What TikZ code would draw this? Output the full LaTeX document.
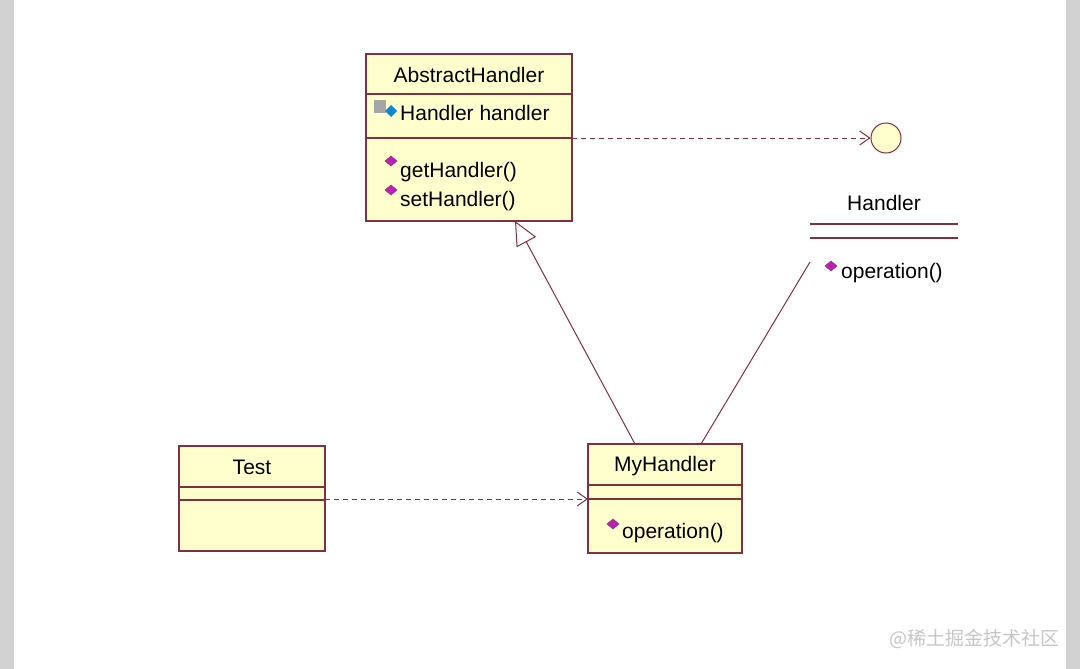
\documentclass[tikz,border=0pt]{standalone}
\usepackage{fontspec}
\setmainfont{Liberation Sans}
\newfontfamily\cjk{Noto Sans CJK SC}
\usetikzlibrary{arrows.meta}
\definecolor{cls}{RGB}{255,255,206}
\definecolor{edge}{RGB}{128,48,64}
\definecolor{mag}{RGB}{190,30,190}
\begin{document}
\begin{tikzpicture}[x=1pt,y=-1pt,
  box/.style={draw=edge,fill=cls,line width=1.2pt},
  sep/.style={draw=edge,line width=1.2pt},
  txt/.style={font=\fontsize{21}{24}\selectfont,inner sep=0pt,anchor=west},
  ttl/.style={font=\fontsize{21}{24}\selectfont,inner sep=0pt},
  dep/.style={draw=edge,dashed,line width=1pt,dash pattern=on 5pt off 4pt,-{Straight Barb[length=10pt,width=14pt]}},
  con/.style={draw=edge,line width=1pt},
  meth/.style={fill=mag,draw=edge,line width=0.4pt}]
\useasboundingbox (0,0) rectangle (1080,669);
\fill[white] (0,0) rectangle (1080,669);
\fill[gray!35] (0,0) rectangle (14,669);
\fill[gray!35] (1066,0) rectangle (1080,669);
\newcommand{\mdiam}[2]{\fill[meth] (#1-6,#2) -- (#1,#2-5) -- (#1+6,#2) -- (#1,#2+5) -- cycle;}
% AbstractHandler
\path[box] (366,54) rectangle (572,221);
\draw[sep] (366,94) -- (572,94);
\draw[sep] (366,138) -- (572,138);
\node[ttl] (ah) at (469,75) {AbstractHandler};
\coordinate (ahs) at (572,138);
\coordinate (ahb) at (515,221);
\fill[gray!70] (374,100) rectangle (386,113);
\fill[cyan!70!blue] (385,111) -- (391,105) -- (397,111) -- (391,117) -- cycle;
\node[txt] at (400,113) {Handler handler};
\mdiam{391}{161}
\node[txt] at (400,172) {getHandler()};
\mdiam{391}{190}
\node[txt] at (400,201) {setHandler()};
% Handler interface
\node[circle,draw=edge,fill=cls,line width=1pt,minimum size=30pt,inner sep=0pt] (hi) at (886,138) {};
\node[ttl] (hl) at (884,203) {Handler};
\draw[sep] (810,224) -- (958,224);
\draw[sep] (810,238) -- (958,238);
\mdiam{831}{266}
\node[txt] at (841,273) {operation()};
\coordinate (hc) at (810,262);
% MyHandler
\path[box] (588,444) rectangle (742,553);
\draw[sep] (588,485) -- (742,485);
\draw[sep] (588,499) -- (742,499);
\node[ttl] (mh) at (665,466) {MyHandler};
\mdiam{613}{524}
\node[txt] at (622,533) {operation()};
\coordinate (mhl) at (588,499);
\coordinate (mht1) at (635,444);
\coordinate (mht2) at (701,444);
% Test
\path[box] (179,446) rectangle (325,551);
\draw[sep] (179,487) -- (325,487);
\draw[sep] (179,500) -- (325,500);
\node[ttl] (t) at (252,467) {Test};
\coordinate (tr) at (325,499);
% connectors
\draw[dep] (ahs) -- (hi.west);
\draw[dep] (tr) -- (mhl);
\draw[con,-{Triangle[open,length=24pt,width=22pt,fill=white]}] (mht1) -- (ahb);
\draw[con] (mht2) -- (hc);
\node[font=\cjk\fontsize{19}{22}\selectfont,text=gray!45,anchor=east,inner sep=0pt] (wm) at (1060,639) {@稀土掘金技术社区};
\end{tikzpicture}
\end{document}
